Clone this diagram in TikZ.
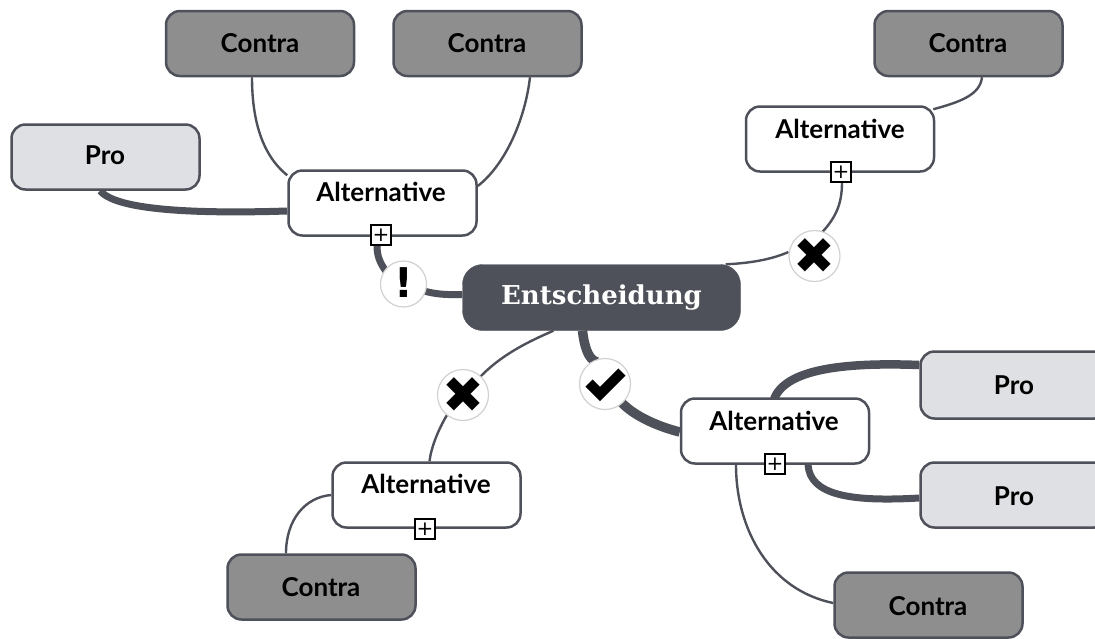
\documentclass[tikz,border=0pt]{standalone}
\usepackage{fontspec}
\setmainfont{Lato}
\newfontfamily\slab{DejaVu Serif}
\newfontfamily\sym{DejaVu Sans}
\usetikzlibrary{backgrounds,calc}
\definecolor{ink}{HTML}{4E5159}
\definecolor{proFill}{HTML}{DFE0E3}
\definecolor{conFill}{HTML}{8E8E8E}
\tikzset{
  basebox/.style={draw=ink,line width=2.5pt,rounded corners=14pt,minimum width=188pt,minimum height=65pt,inner sep=0pt},
  probox/.style={basebox,fill=proFill},
  conbox/.style={basebox,fill=conFill},
  altbox/.style={basebox,fill=white},
  lbl/.style={font=\fontsize{26}{28}\selectfont\bfseries,text=black,inner sep=0pt},
  central/.style={draw=ink,fill=ink,rounded corners=20pt,minimum width=278pt,minimum height=66pt,inner sep=0pt,text=white,font=\slab\bfseries\fontsize{26}{30}\selectfont},
  badge/.style={circle,draw=black!18,line width=1.2pt,fill=white,minimum size=51pt,inner sep=0pt},
  glyph/.style={inner sep=0pt,text=black,font=\sym\fontsize{50}{50}\selectfont},
  plusbox/.style={draw=black,line width=1.2pt,fill=white,minimum size=20pt,inner sep=0pt,text=black,font=\sym\fontsize{20}{20}\selectfont},
  thin link/.style={draw=ink,line width=2.4pt},
  mid link/.style={draw=ink,line width=7pt},
  thick link/.style={draw=ink,line width=9.5pt},
}
\begin{document}
\begin{tikzpicture}[x=1pt,y=-1pt]
\useasboundingbox (0,0) rectangle (1095,638);
\node[central] (c) at (601.5,297.5) {Entscheidung};
\node[altbox] (a1) at (382.5,203) {}; \node[lbl] (a1t) at (381,192) {Alternative};
\node[altbox] (a2) at (840,139) {};  \node[lbl] (a2t) at (840,129) {Alternative};
\node[altbox] (a3) at (775,431) {};  \node[lbl] (a3t) at (774,421) {Alternative};
\node[altbox] (a4) at (426.5,495) {}; \node[lbl] (a4t) at (426,484) {Alternative};
\node[probox] (p1) at (105.5,157) {}; \node[lbl] (p1t) at (105,155) {Pro};
\node[probox,minimum height=67pt] (p2) at (1014.5,385) {}; \node[lbl] (p2t) at (1014,385) {Pro};
\node[probox] (p3) at (1014.5,495) {}; \node[lbl] (p3t) at (1014,496) {Pro};
\node[conbox] (k1) at (260,43.5) {}; \node[lbl] (k1t) at (260,43) {Contra};
\node[conbox] (k2) at (487.5,43.5) {}; \node[lbl] (k2t) at (487,43) {Contra};
\node[conbox] (k3) at (968.5,43.5) {}; \node[lbl] (k3t) at (968,43) {Contra};
\node[conbox] (k4) at (321.5,587) {}; \node[lbl] (k4t) at (321,587) {Contra};
\node[conbox] (k5) at (928.5,605) {}; \node[lbl] (k5t) at (928,606) {Contra};
\node[badge,minimum size=46pt] (bw) at (403.5,284) {};
\node[glyph,font=\sym\bfseries\fontsize{41}{41}\selectfont] (bwt) at (403.5,283) {!};
\node[badge] (bx1) at (814.5,256) {}; \node[glyph] (bx1t) at (814.5,256) {✖};
\node[badge] (bx2) at (463,395) {};   \node[glyph] (bx2t) at (463,395) {✖};
\node[badge] (bc) at (605,384) {};
\draw[line width=10pt,black,line join=miter] ($(bc)+(-16,-1)$) -- ($(bc)+(-5,10)$) -- ($(bc)+(17,-12)$);
\node[plusbox] (e1) at (381,235) {+};
\node[plusbox] (e2) at (841,172) {+};
\node[plusbox] (e3) at (775,464) {+};
\node[plusbox] (e4) at (425,529) {+};
\begin{scope}[on background layer]
\fill[white] (0,0) rectangle (1095,638);
% central to badges
\draw[mid link] ([yshift=3pt]c.west) .. controls (445,295) and (435,294) .. ([shift={(-3,7)}]bw.east);
\draw[mid link] ([xshift=-4pt]e1.south) .. controls (377,255) and (379,263) .. ([shift={(-14,-8)}]bw.center);
\draw[thin link] ([xshift=-15pt]c.north east) .. controls (755,263) and (775,258) .. ([yshift=4pt]bx1.west);
\draw[thin link] ([xshift=1pt]e2.south) .. controls (842,205) and (835,218) .. ([xshift=8pt,yshift=-2pt]bx1.north);
\draw[thin link] ([xshift=-48pt]c.south) .. controls (525,343) and (495,358) .. ([shift={(10,-10)}]bx2.center);
\draw[thin link] ([shift={(-16,20)}]bx2.center) .. controls (438,430) and (431,448) .. ([xshift=3pt]a4.north);
\draw[thick link] ([xshift=-19pt]c.south) .. controls (584,345) and (588,360) .. ([xshift=-8pt,yshift=-4pt]bc.north);
\draw[thick link] ([shift={(16,18)}]bc.center) .. controls (635,417) and (660,427) .. ([yshift=-1pt]a3.west);
% Alternative top-left
\draw[mid link] ([xshift=-5.5pt]p1.south) .. controls (112,205) and (160,215) .. ([yshift=-8pt]a1.west);
\draw[thin link] ([xshift=-8pt]k1.south) .. controls (252,120) and (262,155) .. ([yshift=-6pt]a1.north west);
\draw[thin link] ([xshift=42.5pt]k2.south) .. controls (525,120) and (505,165) .. ([yshift=17pt]a1.east);
% Alternative top-right
\draw[thin link] ([xshift=13.5pt]k3.south) .. controls (980,95) and (960,102) .. ([shift={(-2,4)}]a2.north east);
% Alternative bottom-right
\draw[thick link,line width=8.5pt] ([yshift=20pt]p2.west) .. controls (840,362) and (785,370) .. ([xshift=-1pt,yshift=-2pt]a3.north);
\draw[mid link] ([yshift=-3pt]p3.west) .. controls (850,502) and (810,495) .. ([xshift=33pt]a3.south);
\draw[thin link] ([xshift=-39pt]a3.south) .. controls (736,530) and (770,590) .. ([yshift=2pt]k5.west);
% Alternative bottom-left
\draw[thin link] (a4.west) .. controls (305,497) and (286,520) .. ([xshift=-35.5pt]k4.north);
\end{scope}
\end{tikzpicture}
\end{document}
